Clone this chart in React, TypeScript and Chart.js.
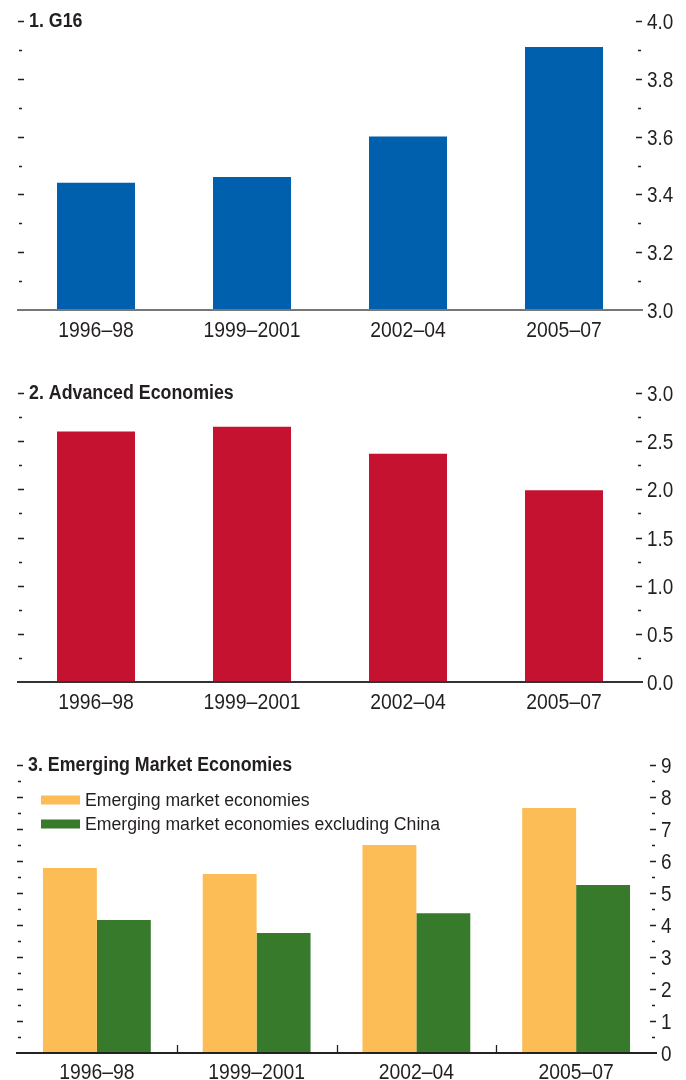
import React, { useEffect, useRef } from 'react';
import { Chart, registerables } from 'chart.js';
Chart.register(...registerables);

const categories = ['1996–98', '1999–2001', '2002–04', '2005–07'];
const g16Values = [3.44, 3.46, 3.6, 3.91];
const advancedValues = [2.6, 2.65, 2.37, 1.99];
const emergingValues = [5.78, 5.59, 6.5, 7.66];
const emergingExChinaValues = [4.16, 3.75, 4.37, 5.25];

const g16Range = [3, 4];
const g16Steps = [0.2, 0.1];
const advancedRange = [0, 3];
const advancedSteps = [0.5, 0.25];
const emergingRange = [0, 9];
const emergingSteps = [1, 0.5];

const titles = ['1. G16', '2. Advanced Economies', '3. Emerging Market Economies'];
const seriesLabels = ['Emerging market economies', 'Emerging market economies excluding China'];

const FONT = "'Liberation Sans', Arial, sans-serif";
const TEXT = '#231f20';
const BLUE = '#0060ae';
const RED = '#c41230';
const ORANGE = '#fdbd56';
const GREEN = '#377a2c';

const isMajor = (v: number, step: number) => Math.abs(v / step - Math.round(v / step)) < 1e-6;

function drawText(ctx: any, text: string, x: number, y: number, sx: number, align: string) {
  ctx.save();
  ctx.translate(x, y);
  ctx.scale(sx, 1);
  ctx.textAlign = align;
  ctx.textBaseline = 'alphabetic';
  ctx.fillText(text, 0, 0);
  ctx.restore();
}

const decorPlugin = {
  id: 'decor',
  afterDraw(chart: any, _args: any, opts: any) {
    const { ctx, chartArea } = chart;
    const y = chart.scales.y;
    const x = chart.scales.x;
    ctx.save();
    ctx.strokeStyle = TEXT;
    ctx.lineWidth = 1.3;
    ctx.fillStyle = TEXT;
    ctx.font = `22px ${FONT}`;
    y.ticks.forEach((t: any) => {
      const py = Math.round(y.getPixelForValue(t.value)) + 0.5;
      const major = isMajor(t.value, opts.major);
      if (major) {
        drawText(ctx, Number(t.value).toFixed(opts.decimals), chartArea.right + 5, py + 7.5, 0.86, 'left');
      }
      if (Math.abs(t.value - opts.min) < 1e-9) return;
      const len = major ? 6 : 3;
      const off = major ? 0 : 1;
      ctx.beginPath();
      ctx.moveTo(chartArea.left + off, py);
      ctx.lineTo(chartArea.left + off + len, py);
      ctx.moveTo(chartArea.right - off, py);
      ctx.lineTo(chartArea.right - off - len, py);
      ctx.stroke();
    });
    chart.data.labels.forEach((lab: string, i: number) => {
      drawText(ctx, lab, x.getPixelForValue(i), chartArea.bottom + opts.labelOffset, 0.88, 'center');
    });
    if (opts.catTicks) {
      for (let i = 1; i < chart.data.labels.length; i++) {
        const px = Math.round((x.getPixelForValue(i - 1) + x.getPixelForValue(i)) / 2) + 0.5;
        ctx.beginPath();
        ctx.moveTo(px, chartArea.bottom);
        ctx.lineTo(px, chartArea.bottom - 8);
        ctx.stroke();
      }
    }
    ctx.font = `bold 20px ${FONT}`;
    drawText(ctx, opts.title, chartArea.left + 11, chartArea.top + 5.5, 0.89, 'left');
    if (opts.legend) {
      ctx.font = `18px ${FONT}`;
      chart.data.datasets.forEach((ds: any, i: number) => {
        const cy = chartArea.top + 35 + i * 24;
        ctx.fillStyle = ds.backgroundColor;
        ctx.fillRect(chartArea.left + 24, cy - 4.5, 39, 9);
        ctx.fillStyle = TEXT;
        drawText(ctx, ds.label, chartArea.left + 68, cy + 6, 0.98, 'left');
      });
    }
    ctx.restore();
  },
};

type PanelCfg = {
  top: number;
  height: number;
  padTop: number;
  padLeft: number;
  xHeight: number;
  yWidth: number;
  range: number[];
  steps: number[];
  datasets: any[];
  title: string;
  legend: boolean;
  catTicks: boolean;
  decimals: number;
  borderColor: string;
  labelOffset: number;
};

function Panel({ cfg }: { cfg: PanelCfg }) {
  const ref = useRef<HTMLCanvasElement>(null);
  useEffect(() => {
    if (!ref.current) return;
    const chart = new Chart(ref.current, {
      type: 'bar',
      data: { labels: categories, datasets: cfg.datasets },
      plugins: [decorPlugin as any],
      options: {
        animation: false,
        responsive: false,
        maintainAspectRatio: false,
        layout: { padding: { top: cfg.padTop, left: cfg.padLeft, right: 0, bottom: 0 } },
        plugins: {
          legend: { display: false },
          tooltip: { enabled: false },
          decor: {
            title: cfg.title,
            legend: cfg.legend,
            catTicks: cfg.catTicks,
            major: cfg.steps[0],
            min: cfg.range[0],
            decimals: cfg.decimals,
            labelOffset: cfg.labelOffset,
          },
        } as any,
        scales: {
          x: {
            grid: { display: false, drawTicks: false },
            border: { display: true, color: cfg.borderColor, width: 2, z: 1 },
            ticks: { display: false },
            afterFit: (s: any) => {
              s.height = cfg.xHeight;
            },
          },
          y: {
            position: 'right',
            min: cfg.range[0],
            max: cfg.range[1],
            grid: { display: false, drawTicks: false },
            border: { display: false },
            ticks: { display: false, stepSize: cfg.steps[1], autoSkip: false },
            afterFit: (s: any) => {
              s.width = cfg.yWidth;
            },
          },
        },
      } as any,
    });
    return () => chart.destroy();
  }, [cfg]);
  return (
    <canvas
      ref={ref}
      width={686}
      height={cfg.height}
      style={{ position: 'absolute', left: 0, top: cfg.top, width: 686, height: cfg.height }}
    />
  );
}

const panels: PanelCfg[] = [
  {
    top: 0,
    height: 345,
    padTop: 21,
    padLeft: 18,
    xHeight: 35,
    yWidth: 44,
    range: g16Range,
    steps: g16Steps,
    datasets: [
      { label: titles[0], data: g16Values, backgroundColor: BLUE, barPercentage: 0.5, categoryPercentage: 1 },
    ],
    title: titles[0],
    legend: false,
    catTicks: false,
    decimals: 1,
    borderColor: '#777777',
    labelOffset: 26.5,
  },
  {
    top: 360,
    height: 355,
    padTop: 33,
    padLeft: 18,
    xHeight: 33,
    yWidth: 44,
    range: advancedRange,
    steps: advancedSteps,
    datasets: [
      { label: titles[1], data: advancedValues, backgroundColor: RED, barPercentage: 0.5, categoryPercentage: 1 },
    ],
    title: titles[1],
    legend: false,
    catTicks: false,
    decimals: 1,
    borderColor: '#333333',
    labelOffset: 26.5,
  },
  {
    top: 730,
    height: 350,
    padTop: 35,
    padLeft: 17,
    xHeight: 27,
    yWidth: 30,
    range: emergingRange,
    steps: emergingSteps,
    datasets: [
      { label: seriesLabels[0], data: emergingValues, backgroundColor: ORANGE, barPercentage: 1, categoryPercentage: 0.675 },
      { label: seriesLabels[1], data: emergingExChinaValues, backgroundColor: GREEN, barPercentage: 1, categoryPercentage: 0.675 },
    ],
    title: titles[2],
    legend: true,
    catTicks: true,
    decimals: 0,
    borderColor: '#222222',
    labelOffset: 25.5,
  },
];

export default function App() {
  return (
    <div style={{ position: 'absolute', left: 0, top: 0, width: 686, height: 1080, background: '#fff' }}>
      {panels.map((p, i) => (
        <Panel key={i} cfg={p} />
      ))}
    </div>
  );
}
